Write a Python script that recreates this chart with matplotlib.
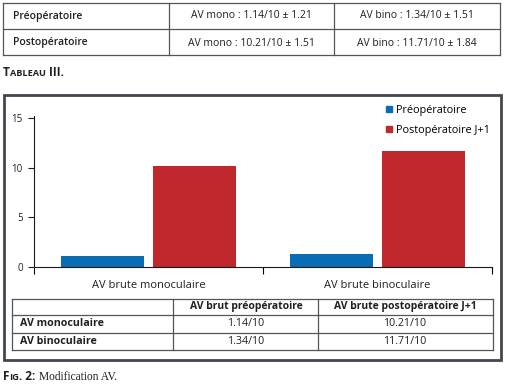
import matplotlib
matplotlib.use('Agg')
import matplotlib.pyplot as plt
from matplotlib.lines import Line2D
from matplotlib.patches import Rectangle, Patch

plt.rcParams['font.family'] = ['Open Sans', 'DejaVu Sans']

# data
categories = ['AV brute monoculaire', 'AV brute binoculaire']
series_names = ['Préopératoire', 'Postopératoire J+1']
pre = [1.14, 1.34]
post = [10.21, 11.71]
pre_sd = [1.21, 1.51]
post_sd = [1.51, 1.84]
row_names_top = ['Préopératoire', 'Postopératoire']
row_names_bottom = ['AV monoculaire', 'AV binoculaire']
col_names_bottom = ['AV brut préopératoire', 'AV brute postopératoire J+1']
yticks = [0, 5, 10, 15]

blue = '#0b6cb6'
red = '#c0272d'
line_col = '#50565e'
frame_col = '#42474f'
text_col = '#231f20'

W, H = 507, 392
fig = plt.figure(figsize=(W / 100, H / 100), dpi=100)


def fx(px):
    return px / W


def fy(py):
    return 1 - py / H


def hline(x0, x1, y, lw=0.9, color=line_col):
    fig.add_artist(Line2D([fx(x0), fx(x1)], [fy(y), fy(y)],
                          transform=fig.transFigure, color=color, lw=lw))


def vline(x, y0, y1, lw=0.9, color=line_col):
    fig.add_artist(Line2D([fx(x), fx(x)], [fy(y0), fy(y1)],
                          transform=fig.transFigure, color=color, lw=lw))


def pieces(x, y, parts):
    # draw text pieces one after another (used for small caps)
    renderer = fig.canvas.get_renderer()
    cur = fx(x)
    for s, kw in parts:
        t = fig.text(cur, fy(y), s, va='baseline', ha='left', color=text_col, **kw)
        bb = t.get_window_extent(renderer)
        cur += bb.width / W


# --- top table ---
for y in [3, 29, 55]:
    hline(3, 500, y)
for x in [3, 169, 334, 500]:
    vline(x, 3, 55)
top_rows = [(row_names_top[0], f'AV mono : {pre[0]:.2f}/10 ± {pre_sd[0]:.2f}',
             f'AV bino : {pre[1]:.2f}/10 ± {pre_sd[1]:.2f}'),
            (row_names_top[1], f'AV mono : {post[0]:.2f}/10 ± {post_sd[0]:.2f}',
             f'AV bino : {post[1]:.2f}/10 ± {post_sd[1]:.2f}')]
for i, (a, b, c) in enumerate(top_rows):
    yc = 16 + i * 27
    fig.text(fx(13), fy(yc), a, ha='left', va='center', fontsize=7.5,
             fontweight='semibold', color=text_col)
    fig.text(fx(251), fy(yc), b, ha='center', va='center', fontsize=7.5, color=text_col)
    fig.text(fx(417), fy(yc), c, ha='center', va='center', fontsize=7.5, color=text_col)

pieces(3, 76, [('T', dict(fontsize=8.5, fontweight='bold')),
               ('ABLEAU', dict(fontsize=6.6, fontweight='bold')),
               (' III.', dict(fontsize=8.5, fontweight='bold'))])

# --- chart frame ---
fig.add_artist(Rectangle((fx(4), fy(360)), fx(501) - fx(4), fy(95) - fy(360),
                         transform=fig.transFigure, fill=False,
                         edgecolor=frame_col, lw=2.0))

ax = fig.add_axes([fx(34), fy(267), fx(492) - fx(34), fy(116) - fy(267)])
xs = range(len(categories))
ax.bar([x - 0.2 for x in xs], pre, width=0.365, color=blue, label=series_names[0])
ax.bar([x + 0.2 for x in xs], post, width=0.365, color=red, label=series_names[1])
ax.set_xlim(-0.5, 1.5)
ax.set_ylim(0, 15.2)
for s in ['top', 'right']:
    ax.spines[s].set_visible(False)
for s in ['left', 'bottom']:
    ax.spines[s].set_linewidth(0.8)
    ax.spines[s].set_color('#1a1a1a')
ax.set_yticks(yticks)
ax.tick_params(axis='y', direction='out', length=4, width=0.8, pad=4,
               labelsize=7, colors=text_col)
ax.set_xticks([-0.5, 0.5, 1.5])
ax.set_xticklabels([])
ax.tick_params(axis='x', which='major', direction='out', length=5, width=0.8)
ax.set_xticks(list(xs), minor=True)
ax.set_xticklabels(categories, minor=True)
ax.tick_params(axis='x', which='minor', length=0, pad=9, labelsize=8, colors=text_col)

handles = [Patch(color=blue), Patch(color=red)]
fig.legend(handles, series_names, loc='upper left',
           bbox_to_anchor=(fx(386), fy(105)), frameon=False, fontsize=7.8,
           handlelength=0.55, handleheight=0.55, handletextpad=0.4,
           labelspacing=0.8, borderaxespad=0, borderpad=0)

# --- bottom table ---
for y in [299, 315, 333, 350]:
    hline(12, 493, y)
for x in [12, 173, 318, 493]:
    vline(x, 299, 350)
fig.text(fx(246), fy(307), col_names_bottom[0], ha='center', va='center',
         fontsize=7.5, fontweight='bold', color=text_col)
fig.text(fx(405), fy(307), col_names_bottom[1], ha='center', va='center',
         fontsize=7.5, fontweight='bold', color=text_col)
for i, name in enumerate(row_names_bottom):
    yc = 324 + i * 18
    fig.text(fx(20), fy(yc), name, ha='left', va='center', fontsize=7.7,
             fontweight='bold', color=text_col)
    fig.text(fx(246), fy(yc), f'{pre[i]:.2f}/10', ha='center', va='center',
             fontsize=7.7, color=text_col)
    fig.text(fx(405), fy(yc), f'{post[i]:.2f}/10', ha='center', va='center',
             fontsize=7.7, color=text_col)

pieces(3, 380, [('F', dict(fontsize=8.5, fontweight='bold')),
                ('IG', dict(fontsize=6.8, fontweight='bold')),
                ('. 2: ', dict(fontsize=8.5, fontweight='bold')),
                ('Modification AV.', dict(fontsize=8.3, family='Liberation Serif'))])

fig.savefig('out.png', dpi=100)
